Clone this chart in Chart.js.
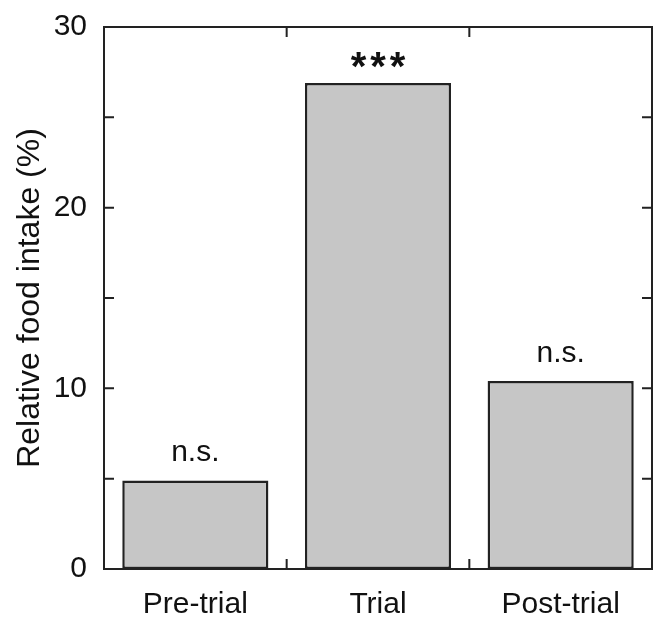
<!DOCTYPE html>
<html>
<head>
<meta charset="utf-8">
<script src="https://cdn.jsdelivr.net/npm/chart.js@4.4.1/dist/chart.umd.min.js"></script>
<style>
  html, body { margin: 0; padding: 0; background: #fff; }
  canvas { display: block; }
</style>
</head>
<body>
<canvas id="grafico" width="654" height="617"></canvas>
<script>
// Datos
const categorias = ['Pre-trial', 'Trial', 'Post-trial'];
const consumo = [4.9, 26.9, 10.4];
const significancia = ['n.s.', '***', 'n.s.'];
const etiquetasY = [0, 10, 20, 30];
const marcasY = [0, 5, 10, 15, 20, 25, 30];

const colorLinea = '#222';
const fuente = "'Liberation Sans', Arial, Helvetica, sans-serif";

// Marco, marcas hacia dentro y textos de significancia
const marcoPlugin = {
  id: 'marco',
  afterDatasetsDraw(chart) {
    const { ctx, chartArea: a, scales } = chart;
    const largo = 10;
    ctx.save();
    ctx.strokeStyle = colorLinea;
    ctx.lineWidth = 2;
    ctx.strokeRect(a.left, a.top, a.right - a.left, a.bottom - a.top);

    ctx.beginPath();
    marcasY.forEach(v => {
      const y = scales.y.getPixelForValue(v);
      ctx.moveTo(a.left, y); ctx.lineTo(a.left + largo, y);
      ctx.moveTo(a.right, y); ctx.lineTo(a.right - largo, y);
    });
    // separaciones entre categorías (arriba y abajo)
    for (let i = 0; i < categorias.length - 1; i++) {
      const x = (scales.x.getPixelForValue(i) + scales.x.getPixelForValue(i + 1)) / 2;
      ctx.moveTo(x, a.bottom); ctx.lineTo(x, a.bottom - largo);
      ctx.moveTo(x, a.top); ctx.lineTo(x, a.top + largo);
    }
    ctx.stroke();

    // n.s. / ***
    const meta = chart.getDatasetMeta(0);
    ctx.fillStyle = '#111';
    ctx.textAlign = 'center';
    ctx.textBaseline = 'alphabetic';
    meta.data.forEach((barra, i) => {
      const texto = significancia[i];
      if (texto === '***') {
        ctx.font = 'bold 40px ' + fuente;
        ctx.letterSpacing = '4px';
        ctx.fillText(texto, barra.x + 2, barra.y - 3);
        ctx.letterSpacing = '0px';
      } else {
        ctx.font = '30px ' + fuente;
        ctx.fillText(texto, barra.x, barra.y - 19);
      }
    });
    ctx.restore();
  }
};

const chart = new Chart(document.getElementById('grafico'), {
  type: 'bar',
  data: {
    labels: categorias,
    datasets: [{
      data: consumo,
      backgroundColor: '#c6c6c6',
      borderColor: colorLinea,
      borderWidth: 2.5,
      borderSkipped: false,
      barPercentage: 0.8,
      categoryPercentage: 1.0
    }]
  },
  options: {
    responsive: false,
    animation: false,
    layout: { padding: { top: 22, right: 2, bottom: 0, left: 0 } },
    plugins: {
      legend: { display: false },
      tooltip: { enabled: false }
    },
    scales: {
      x: {
        grid: { display: false },
        border: { display: false },
        ticks: {
          color: '#111',
          font: { family: fuente, size: 30 },
          padding: 10,
          maxRotation: 0
        },
        afterFit(scale) { scale.height = 48; }
      },
      y: {
        min: 0,
        max: 30,
        grid: { display: false },
        border: { display: false },
        ticks: {
          stepSize: 10,
          color: '#111',
          font: { family: fuente, size: 30 },
          padding: 9,
          callback: v => etiquetasY.includes(v) ? String(v) : ''
        },
        title: {
          display: true,
          text: 'Relative food intake (%)',
          color: '#111',
          font: { family: fuente, size: 32 },
          padding: { top: 11, bottom: 0 }
        },
        afterFit(scale) { scale.width = 104; }
      }
    }
  },
  plugins: [marcoPlugin]
});
</script>
</body>
</html>
